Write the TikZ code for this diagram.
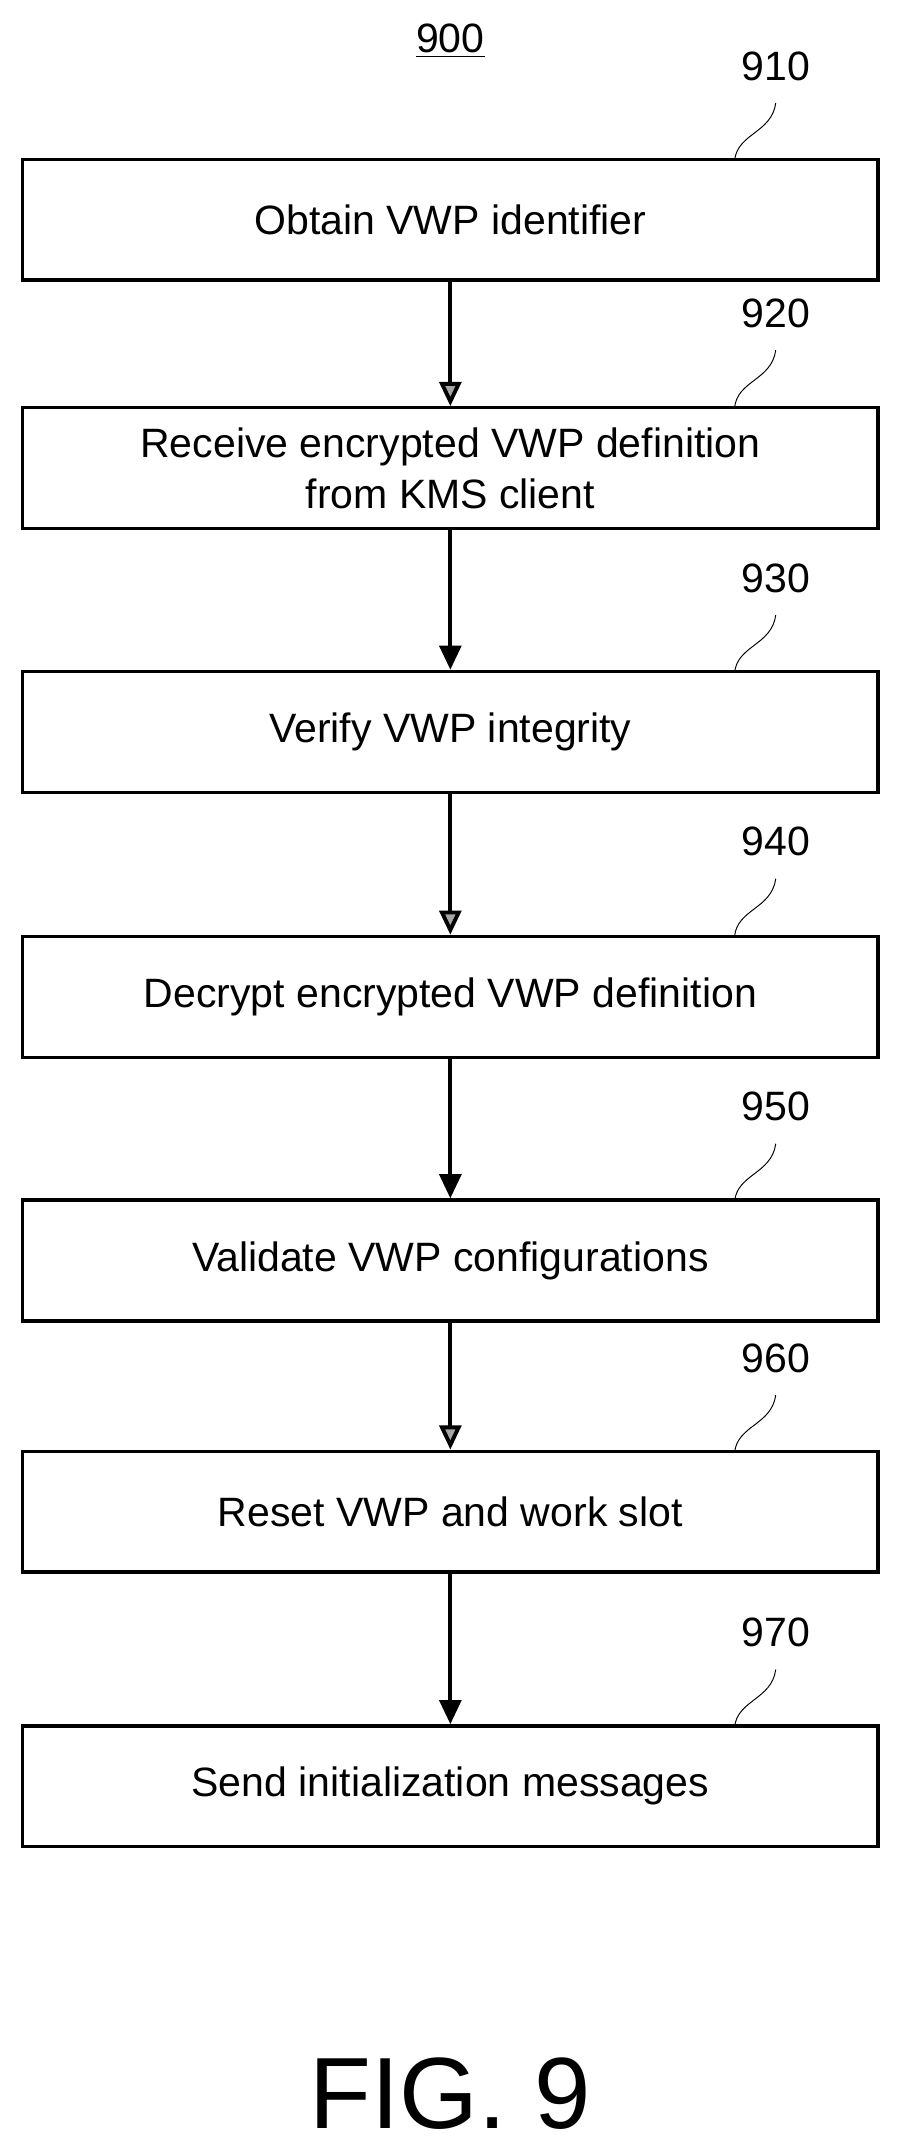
\documentclass[tikz,border=0pt]{standalone}
\usepackage{fontspec}
\setmainfont{Liberation Sans}
\usetikzlibrary{positioning,arrows.meta}
\begin{document}
\begin{tikzpicture}[x=0.02cm,y=-0.02cm,semithick,
                    stepbox/.style={draw,line width=1.4pt,minimum width=12.46cm,minimum height=1.76cm,
                                 align=center,font=\fontsize{17}{21}\selectfont},
                    ref/.style={font=\fontsize{17}{21}\selectfont},
                    flow/.style={-{Triangle[length=10pt,width=9pt]},line width=1.6pt},
                    hatched/.style={-{Triangle[length=10pt,width=9pt,fill=gray!70]},line width=1.6pt}]
\useasboundingbox (0,0) rectangle (655,1563);
\node[ref] (n900) at (328,30) {\underline{900}};
\node[stepbox] (s910) at (328,160) {Obtain VWP identifier};
\node[stepbox] (s920) at (328,341) {Receive encrypted VWP definition\\from KMS client};
\node[stepbox] (s930) at (328,533) {Verify VWP integrity};
\node[stepbox] (s940) at (328,726) {Decrypt encrypted VWP definition};
\node[stepbox] (s950) at (328,918) {Validate VWP configurations};
\node[stepbox] (s960) at (328,1101) {Reset VWP and work slot};
\node[stepbox] (s970) at (328,1301) {Send initialization messages};
\node[font=\fontsize{42}{50}\selectfont] (fig) at (328,1525) {FIG. 9};
% reference numbers with leader curves
\foreach \n/\y in {910/117,920/297,930/490,940/682,950/875,960/1058,970/1258}{
  \node[ref] (r\n) at (565,\y-69) {\n};
  \draw[thin] (535,\y) .. controls (537,\y-20) and (562,\y-20) .. (565,\y-42);
}
\draw[hatched] (s910) -- (s920);
\draw[flow] (s920) -- (s930);
\draw[hatched] (s930) -- (s940);
\draw[flow] (s940) -- (s950);
\draw[hatched] (s950) -- (s960);
\draw[flow] (s960) -- (s970);
\end{tikzpicture}
\end{document}
